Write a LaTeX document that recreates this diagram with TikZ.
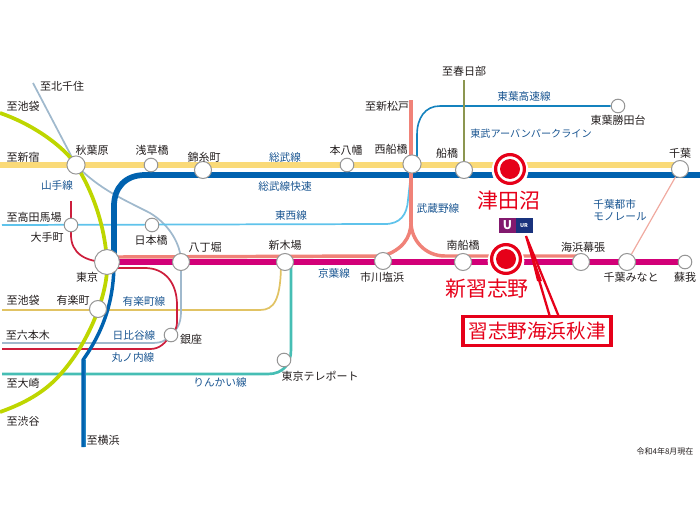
\documentclass[tikz,border=0pt]{standalone}
\usepackage{fontspec}
\setmainfont{Noto Sans CJK JP}
\usetikzlibrary{backgrounds}
\definecolor{cyel}{RGB}{250,218,120}
\definecolor{cblu}{RGB}{0,98,175}
\definecolor{cgrn}{RGB}{190,214,0}
\definecolor{chib}{RGB}{160,185,205}
\definecolor{ctoz}{RGB}{95,195,235}
\definecolor{cmar}{RGB}{205,30,60}
\definecolor{csal}{RGB}{240,130,120}
\definecolor{cmag}{RGB}{210,0,120}
\definecolor{cteal}{RGB}{70,190,180}
\definecolor{cyur}{RGB}{225,195,100}
\definecolor{ctoy}{RGB}{20,130,190}
\definecolor{ctob}{RGB}{140,150,80}
\definecolor{cmon}{RGB}{240,170,160}
\definecolor{ctxt}{RGB}{35,30,30}
\definecolor{clab}{RGB}{25,85,145}
\definecolor{cred}{RGB}{230,0,25}
\definecolor{cring}{RGB}{150,150,150}
\definecolor{curm}{RGB}{130,25,110}
\definecolor{curn}{RGB}{25,50,125}
\tikzset{
 st/.style={circle,draw=cring,line width=0.75pt,fill=white,inner sep=0pt,minimum size=#1*0.85pt},
 tx/.style={inner sep=0pt,text=ctxt,font=\fontsize{8.25pt}{9pt}\selectfont},
 lb/.style={inner sep=0pt,text=clab,font=\fontsize{8pt}{9pt}\selectfont},
 big/.style={inner sep=0pt,text=cred,font=\fontsize{15.7pt}{17pt}\selectfont},
 halo/.style={circle,fill=white,inner sep=0pt,minimum size=27.5pt},
 ring/.style={circle,draw=cred,line width=2.4pt,fill=white,inner sep=0pt,minimum size=21.6pt},
 dot/.style={circle,fill=cred,inner sep=0pt,minimum size=15pt},
 ln/.style={line cap=butt,line join=round}
}
\begin{document}
\begin{tikzpicture}[x=0.75pt,y=-0.75pt]
\useasboundingbox (0,0) rectangle (700,525);
% stations
\node[st=16] (aki) at (76,165) {};
\node[st=12] (asa) at (151,165) {};
\node[st=15] (kin) at (203,170) {};
\node[st=12] (mot) at (347,165) {};
\node[st=16] (nis) at (412,164) {};
\node[st=15] (fun) at (464,170) {};
\node[st=15] (chi) at (680,169) {};
\node[st=12] (tog) at (618,106) {};
\node[st=22] (tok) at (107,262) {};
\node[st=15] (hat) at (181,262) {};
\node[st=15] (shk) at (285,262) {};
\node[st=15] (ich) at (383,261) {};
\node[st=15] (mfn) at (463,262) {};
\node[st=15] (kai) at (581,262) {};
\node[st=15] (cmi) at (627,262) {};
\node[st=12] (sog) at (685,262) {};
\node[st=12] (ote) at (71,225) {};
\node[st=12] (nih) at (152,225) {};
\node[st=15] (yur) at (98,309) {};
\node[st=12] (gin) at (171,335) {};
\node[st=12] (tel) at (284,360) {};
\node[halo] (tsuh) at (510,170) {};
\node[ring] (tsu) at (510,169) {};
\node[dot] (tsud) at (510,169) {};
\node[halo] (shih) at (506,261) {};
\node[ring] (shi) at (506,259) {};
\node[dot] (shid) at (506,259) {};
% free ends
\coordinate (yW) at (0,165); \coordinate (yE) at (680,165);
\coordinate (bE) at (700,175); \coordinate (bH) at (145,175);
\coordinate (bV) at (114,206); \coordinate (bT) at (114,262);
\coordinate (bL) at (83,360); \coordinate (bS) at (83,447);
\coordinate (gN) at (0,113); \coordinate (gS) at (0,412);
\coordinate (hN) at (33,83); \coordinate (hW) at (2,343);
\coordinate (tW) at (2,225); \coordinate (tE) at (385,224);
\coordinate (mN) at (71,201); \coordinate (mW) at (2,349);
\coordinate (sN) at (411,100); \coordinate (sJ) at (411,222);
\coordinate (sW) at (383,256); \coordinate (sT) at (118,257);
\coordinate (sE) at (445,256); \coordinate (sF) at (581,256);
\coordinate (kT) at (107,262); \coordinate (yuW) at (2,310);
\coordinate (rW) at (2,374); \coordinate (rT) at (291,262);
\coordinate (yuT) at (281,262);
\coordinate (tbN) at (464,80);
\begin{scope}[on background layer]
\draw[ln,cyel,line width=4pt] (yW) -- (yE);
\draw[ln,cyur,line width=1.3pt] (yuW) -- (260,310) .. controls (274,310) and (281,300) .. (yuT);
\draw[ln,cteal,line width=2pt] (rW) -- (268,374) .. controls (283,374) and (291,364) .. (291,350) -- (rT);
\draw[ln,chib,line width=1.3pt] (hN) -- (aki.center) .. controls (100,190) and (125,200) .. (150,213) .. controls (170,225) and (181,245) .. (hat.center) -- (181,312) .. controls (181,325) and (176,330) .. (gin.center) .. controls (165,342) and (160,343) .. (150,343) -- (hW);
\draw[ln,ctoz,line width=1.3pt] (tW) -- (tE) .. controls (400,224) and (407,215) .. (408,200) -- (nis.center);
\draw[ln,cmar,line width=1.3pt] (mN) -- (ote.center) -- (71,235) .. controls (71,253) and (85,262) .. (tok.center);
\draw[ln,cmar,line width=1.3pt] (tok.center) -- (118,268) -- (145,268) .. controls (165,268) and (177,283) .. (177,305) -- (177,322) .. controls (177,330) and (172,335) .. (gin.center) .. controls (165,343) and (160,349) .. (150,349) -- (mW);
\draw[ln,cgrn,line width=2.8pt] (gN) .. controls (35,125) and (65,148) .. (aki.center) .. controls (92,190) and (105,225) .. (tok.center) .. controls (109,290) and (90,345) .. (55,380) .. controls (40,395) and (20,405) .. (gS);
\draw[ln,cblu!60!ctoz,line width=1pt] (85,360) -- (85,447);
\draw[ln,cblu,line width=2.6pt] (bT) .. controls (114,300) and (104,330) .. (bL) -- (bS);
\draw[ln,cblu,line width=4.3pt] (bE) -- (bH) .. controls (125,175) and (114,188) .. (bV) -- (bT);
\draw[ln,csal,line width=2.6pt] (sN) -- (sJ);
\draw[ln,csal,line width=2.6pt] (sJ) .. controls (411,238) and (402,250) .. (sW) -- (sT);
\draw[ln,csal,line width=2.6pt] (sJ) .. controls (411,240) and (425,256) .. (sE) -- (sF);
\draw[ln,cmag,line width=4pt] (kT) -- (sog.center);
\draw[ln,ctoy,line width=1.2pt] (tog) -- (440,106) .. controls (425,106) and (417,118) .. (417,135) -- (417,160);
\draw[ln,ctob,line width=0.9pt] (tbN) -- (fun.center);
\draw[ln,cmon,line width=0.9pt] (chi) -- (cmi);
\end{scope}
% UR mark
\fill[curm] (499,218) rectangle (516,233);
\fill[curn] (516,218) rectangle (533,233);
\node[inner sep=0pt,text=white,font=\fontsize{4pt}{4pt}\selectfont\bfseries] (urt) at (524,225.5) {UR};
\node[inner sep=0pt,text=white,font=\fontsize{9pt}{9pt}\selectfont\bfseries] (uri) at (507.5,225) {U};
% pointer and box
\fill[white,draw=cred,line width=1.7pt,line join=miter] (526,236) -- (559,317) -- (550,317) -- cycle;
\fill[cred] (526,236) -- (542,281) -- (537,281) -- cycle;
\node[draw=cred,line width=2.3pt,fill=white,inner sep=0pt,minimum width=111pt,minimum height=21.5pt,text=cred,font=\fontsize{14.7pt}{16pt}\selectfont] (box) at (537,331) {習志野海浜秋津};
% labels
\node[tx] (l1) at (62,86) {至北千住};
\node[tx] (l2) at (23,106) {至池袋};
\node[tx] (l3) at (92,150) {秋葉原};
\node[tx] (l4) at (152,150) {浅草橋};
\node[tx] (l5) at (204,157) {錦糸町};
\node[tx] (l6) at (23,157) {至新宿};
\node[lb] (l7) at (57,185) {山手線};
\node[tx] (l8) at (34,217) {至高田馬場};
\node[tx] (l9) at (47,237) {大手町};
\node[tx] (l10) at (151,240) {日本橋};
\node[tx] (l11) at (205,247) {八丁堀};
\node[tx] (l12) at (87,277) {東京};
\node[tx] (l13) at (23,300) {至池袋};
\node[tx] (l14) at (73,300) {有楽町};
\node[lb] (l15) at (144,301) {有楽町線};
\node[tx] (l16) at (28,335) {至六本木};
\node[lb] (l17) at (134,335) {日比谷線};
\node[tx] (l18) at (191,339) {銀座};
\node[lb] (l19) at (133,357) {丸ノ内線};
\node[tx] (l20) at (23,383) {至大崎};
\node[tx] (l21) at (23,421) {至渋谷};
\node[tx] (l22) at (103,440) {至横浜};
\node[lb] (l23) at (220,382) {りんかい線};
\node[tx] (l24) at (320,376) {東京テレポート};
\node[lb] (l25) at (334,273) {京葉線};
\node[tx] (l26) at (382,277) {市川塩浜};
\node[tx] (l27) at (285,245) {新木場};
\node[lb] (l28) at (291,215) {東西線};
\node[lb] (l29) at (285,186) {総武線快速};
\node[lb] (l30) at (285,157) {総武線};
\node[tx] (l31) at (346,150) {本八幡};
\node[tx] (l32) at (391,149) {西船橋};
\node[tx] (l33) at (387,106) {至新松戸};
\node[tx] (l34) at (464,71) {至春日部};
\node[tx] (l35) at (447,153) {船橋};
\node[lb] (l36) at (438,208) {武蔵野線};
\node[tx] (l37) at (463,245) {南船橋};
\node[lb] (l38) at (524,96) {東葉高速線};
\node[tx] (l39) at (618,120) {東葉勝田台};
\node[inner sep=0pt,text=clab,font=\fontsize{7.6pt}{9pt}\selectfont] (l40) at (531,134) {東武アーバンパークライン};
\node[tx] (l41) at (680,153) {千葉};
\node[big] (l42) at (509,201) {津田沼};
\node[big] (l43) at (487,289) {新習志野};
\node[lb,align=left] (l44) at (620,210.5) {千葉都市\\モノレール};
\node[tx] (l45) at (583,247) {海浜幕張};
\node[tx] (l46) at (631,277) {千葉みなと};
\node[tx] (l47) at (685,277) {蘇我};
\node[inner sep=0pt,text=ctxt,font=\fontsize{6pt}{7pt}\selectfont] (l48) at (665,451) {令和4年8月現在};
\end{tikzpicture}
\end{document}
